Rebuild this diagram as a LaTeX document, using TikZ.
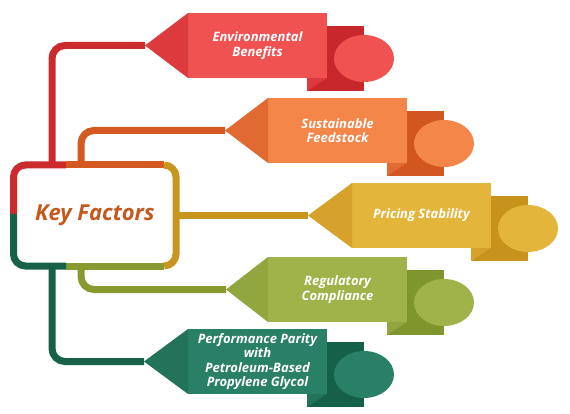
\documentclass[tikz,border=0pt]{standalone}
\usepackage{fontspec}
\setmainfont{Open Sans}
\usetikzlibrary{calc}
\definecolor{redlt}{HTML}{F05252}\definecolor{redmd}{HTML}{DC3A3C}\definecolor{reddk}{HTML}{C8282C}\definecolor{redln}{HTML}{CC2B2E}
\definecolor{orlt}{HTML}{F4864A}\definecolor{ormd}{HTML}{E06A32}\definecolor{ordk}{HTML}{D2561F}\definecolor{orln}{HTML}{D55A22}
\definecolor{gdlt}{HTML}{E4B53B}\definecolor{gdmd}{HTML}{D6A22B}\definecolor{gddk}{HTML}{C7931D}\definecolor{gdln}{HTML}{C8961F}
\definecolor{ollt}{HTML}{A0B24A}\definecolor{olmd}{HTML}{91A63F}\definecolor{oldk}{HTML}{7F962E}\definecolor{olln}{HTML}{87992F}
\definecolor{grlt}{HTML}{2A8066}\definecolor{grmd}{HTML}{23735B}\definecolor{grdk}{HTML}{156049}\definecolor{grln}{HTML}{176149}
\definecolor{kftext}{HTML}{C4591E}
\tikzset{
  kfrect/.style={rectangle, inner sep=0pt, outer sep=0pt, minimum width=139pt, minimum height=65pt,
    text=white, align=center, font=\bfseries\itshape\fontsize{13}{14.5}\selectfont},
  conn/.style={line width=7pt, rounded corners=13pt, line cap=butt},
  rim/.style={line width=7pt, rounded corners=12pt, line cap=butt},
}
\newcommand\kfitem[7]{%
  \fill[#6] ({#2+119},{#3+13}) rectangle ({#2+176},{#3+78});
  \fill[#5] ({#2+119},{#3+65}) -- ({#2+139},{#3+65}) -- ({#2+119},{#3+78}) -- cycle;
  \fill[#4] ({#2+176},{#3+45.5}) ellipse [x radius=30, y radius=23.5];
  \node[kfrect, fill=#4] (r#1) at ({#2+69.5},{#3+32.5}) {#7};
  \fill[#5] (r#1.north west) -- (t#1) -- (r#1.south west) -- cycle;
}
\begin{document}
\begin{tikzpicture}[x=1pt,y=-1pt]
\useasboundingbox (0,0) rectangle (570,414);
\fill[white] (0,0) rectangle (570,414);
% key factors box
\node[rectangle, inner sep=0pt, outer sep=0pt, minimum width=162.5pt, minimum height=101pt,
  text=kftext, font=\bfseries\itshape\fontsize{22}{26}\selectfont] (kf) at (94.75,215.5) {Key Factors};
% tips
\coordinate (t1) at (145,45.5);
\coordinate (t2) at (225,130.5);
\coordinate (t3) at (308,215.5);
\coordinate (t4) at (226,289.5);
\coordinate (t5) at (144,361.5);
% connectors
\draw[conn, redln] ([xshift=38.5pt]kf.north west) |- (t1);
\draw[conn, orln] ([xshift=67.5pt]kf.north west) |- (t2);
\draw[conn, gdln] (kf.east |- t3) -- (t3);
\draw[conn, olln] ([xshift=67.5pt]kf.south west) |- (t4);
\draw[conn, grln] ([xshift=38.5pt]kf.south west) |- (t5);
% items
\kfitem{1}{188}{13}{redlt}{redmd}{reddk}{Environmental\\Benefits}
\kfitem{2}{268}{98}{orlt}{ormd}{ordk}{Sustainable\\Feedstock}
\kfitem{3}{352}{183}{gdlt}{gdmd}{gddk}{Pricing Stability}
\kfitem{4}{268}{257}{ollt}{olmd}{oldk}{Regulatory\\Compliance}
\kfitem{5}{188}{329}{grlt}{grmd}{grdk}{Performance Parity\\with\\Petroleum-Based\\Propylene Glycol}
% box rim
\coordinate (kfl) at ($(kf.north west)!0.5!(kf.south west)+(0,1.5pt)$);
\draw[rim, redln] (kfl) -- (kf.north west) -- ([xshift=52.5pt]kf.north west);
\draw[rim, orln] ([xshift=52.5pt]kf.north west) -- ([xshift=-12pt]kf.north east);
\draw[rim, gdln] ([xshift=-12pt]kf.north east) -- (kf.north east) -- (kf.south east) -- ([xshift=-12pt]kf.south east);
\draw[rim, olln] ([xshift=-12pt]kf.south east) -- ([xshift=52.5pt]kf.south west);
\draw[rim, grln] ([xshift=52.5pt]kf.south west) -- (kf.south west) -- (kfl);
\end{tikzpicture}
\end{document}
